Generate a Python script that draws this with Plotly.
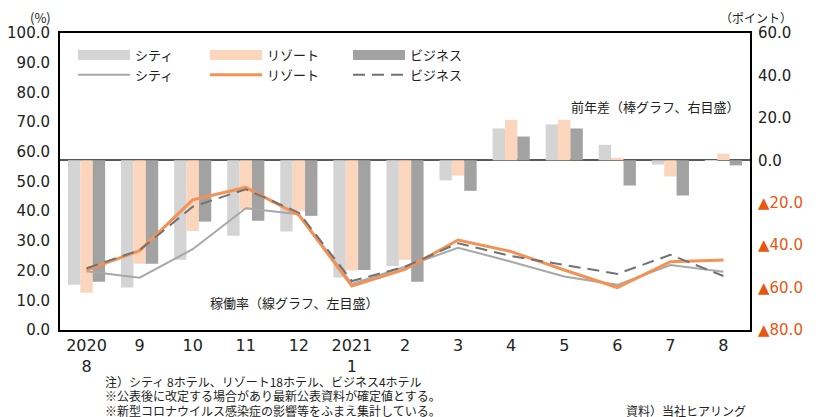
import plotly.graph_objects as go

months = ["2020<br>8", "9", "10", "11", "12", "2021<br>1", "2", "3", "4", "5", "6", "7", "8"]

# occupancy rate (%) - lines, left axis
city_rate = [19.8, 17.6, 27.2, 41.0, 39.0, 15.5, 21.3, 27.7, 23.0, 18.0, 15.2, 21.9, 19.6]
resort_rate = [20.2, 26.7, 43.8, 48.0, 38.7, 14.8, 20.4, 30.3, 26.4, 20.2, 14.3, 23.0, 23.6]
business_rate = [20.8, 26.9, 41.5, 47.4, 39.5, 16.5, 21.3, 29.2, 24.9, 21.9, 18.9, 25.3, 18.2]

# year-on-year difference (points) - bars, right axis
city_diff = [-58.7, -60.0, -46.9, -35.6, -33.6, -55.3, -49.8, -9.5, 15.0, 16.9, 7.3, -2.0, -0.3]
resort_diff = [-62.4, -48.8, -33.3, -23.3, -23.8, -52.0, -46.9, -7.2, 19.1, 19.1, 1.2, -7.6, 3.1]
business_diff = [-57.2, -48.8, -28.9, -28.5, -26.2, -51.7, -57.2, -14.4, 11.2, 15.0, -11.9, -16.6, -2.4]

left_ticks = [0, 10, 20, 30, 40, 50, 60, 70, 80, 90, 100]
right_ticks = [-80, -60, -40, -20, 0, 20, 40, 60]

C_CITY_BAR = "#d4d4d4"
C_RESORT_BAR = "#fbd6bc"
C_BUS_BAR = "#a2a2a2"
C_CITY_LINE = "#a8a8a8"
C_RESORT_LINE = "#f39255"
C_BUS_LINE = "#727272"
NEG = "#e8560f"
FONT = "Noto Sans CJK JP"
NUMFONT = "DejaVu Sans"

# page coords of plot area (window has 8px body margin)
PL, PR, PT, PB = 60, 750, 33, 330
PW, PH = PR - PL, PB - PT

fig = go.Figure()

for name, vals, col in [("シティ", city_diff, C_CITY_BAR),
                        ("リゾート", resort_diff, C_RESORT_BAR),
                        ("ビジネス", business_diff, C_BUS_BAR)]:
    fig.add_trace(go.Bar(x=months, y=vals, name=name, marker_color=col,
                         marker_line_width=0, yaxis="y", showlegend=False))

series = [("シティ", city_rate, C_CITY_BAR, C_CITY_LINE, "solid", 2, "legend"),
          ("リゾート", resort_rate, C_RESORT_BAR, C_RESORT_LINE, "solid", 3, "legend2"),
          ("ビジネス", business_rate, C_BUS_BAR, C_BUS_LINE, "12px,7px", 2, "legend3")]

for name, vals, bcol, lcol, dash, w, lg in series:
    # legend swatch for the bar series
    fig.add_trace(go.Scatter(x=[None], y=[None], mode="lines", name=name,
                             line=dict(color=bcol, width=12), yaxis="y2",
                             legend=lg))
    fig.add_trace(go.Scatter(x=months, y=vals, name=name, mode="lines",
                             line=dict(color=lcol, width=w, dash=dash),
                             yaxis="y2", legend=lg))

def rlabel(v):
    if v < 0:
        return f'<span style="color:{NEG}">▲{abs(v):.1f}</span>'
    return f"{v:.1f}"

def legend_at(px):
    return dict(orientation="v", x=(px - 6 - PL) / PW, y=(PB - 40) / PH,
                xanchor="left", yanchor="top", itemwidth=52,
                font=dict(size=13, family=FONT, color="#222222"),
                bgcolor="rgba(0,0,0,0)", traceorder="normal",
                tracegroupgap=0)

fig.update_layout(
    width=810, height=409,
    margin=dict(l=PL - 8, r=810 - (PR - 8), t=PT - 8, b=409 - (PB - 8),
                autoexpand=False),
    paper_bgcolor="white", plot_bgcolor="white",
    font=dict(family=FONT, color="#222222", size=15),
    barmode="group", bargap=0.3, bargroupgap=0,
    xaxis=dict(showline=True, linecolor="black", linewidth=2, mirror=True,
               ticks="", showgrid=False, automargin=False,
               tickfont=dict(size=16, family=NUMFONT, color="#222222")),
    yaxis=dict(side="right", range=[-80, 60], tickvals=right_ticks,
               ticktext=[rlabel(v) for v in right_ticks],
               showgrid=False, zeroline=True, zerolinecolor="#595959",
               zerolinewidth=1.5, showline=True, linecolor="black",
               linewidth=2, ticks="", ticklabelstandoff=3, automargin=False,
               tickfont=dict(size=15, family=NUMFONT, color="#222222")),
    yaxis2=dict(side="left", overlaying="y", range=[0, 100],
                tickvals=left_ticks, tickformat=".1f", showgrid=False,
                zeroline=False, showline=True, linecolor="black",
                linewidth=2, ticks="", ticklabelstandoff=5, automargin=False,
                tickfont=dict(size=15, family=NUMFONT, color="#222222")),
    legend=legend_at(79),
    legend2=legend_at(211),
    legend3=legend_at(354),
)

ann = [
    dict(text="(%)", x=40, y=17, size=13, anchor="center"),
    dict(text="（ポイント）", x=794, y=17, size=12, anchor="right"),
    dict(text="前年差（棒グラフ、右目盛）", x=741, y=106, size=13, anchor="right"),
    dict(text="稼働率（線グラフ、左目盛）", x=208, y=302, size=13, anchor="left"),
]
for a in ann:
    fig.add_annotation(text=a["text"], xref="paper", yref="paper",
                       x=(a["x"] - PL) / PW, y=(PB - a["y"]) / PH,
                       xanchor=a["anchor"], yanchor="middle", showarrow=False,
                       font=dict(size=a["size"], family=FONT, color="#222222"))

notes = ["注）シティ 8ホテル、リゾート18ホテル、ビジネス4ホテル",
         "※公表後に改定する場合があり最新公表資料が確定値とする。",
         "※新型コロナウイルス感染症の影響等をふまえ集計している。"]
for i, t in enumerate(notes):
    fig.add_annotation(text=t, xref="paper", yref="paper",
                       x=(103 - PL) / PW, y=(PB - (381 + 14.5 * i)) / PH,
                       xanchor="left", yanchor="middle", showarrow=False,
                       font=dict(size=12, family=FONT, color="#222222"))
fig.add_annotation(text="資料）当社ヒアリング", xref="paper", yref="paper",
                   x=(748 - PL) / PW, y=(PB - 410) / PH,
                   xanchor="right", yanchor="middle", showarrow=False,
                   font=dict(size=12, family=FONT, color="#222222"))

fig.write_html("out.html")
